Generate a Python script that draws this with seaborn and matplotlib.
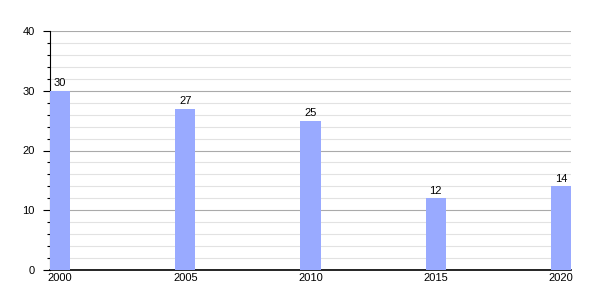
import matplotlib
matplotlib.use("Agg")
import matplotlib.pyplot as plt
import seaborn as sns
import numpy as np
import pandas as pd
from matplotlib.ticker import MultipleLocator

years = [2000, 2005, 2010, 2015, 2020]
values = [30, 27, 25, 12, 14]

sns.set_style("white")
plt.rcParams['font.family'] = ['Liberation Sans', 'DejaVu Sans']
plt.rcParams['text.color'] = 'black'
plt.rcParams['xtick.color'] = 'black'
plt.rcParams['ytick.color'] = 'black'

fig = plt.figure(figsize=(6, 3), dpi=100)
ax = fig.add_axes([50/600, 1 - 270/300, 521/600, 239/300])

centers = [y + 0.4 for y in years]
df = pd.DataFrame({"x": centers, "v": values})
sns.barplot(data=df, x="x", y="v", native_scale=True, width=0.16,
            color="#99aaff", saturation=1, ax=ax, zorder=3, errorbar=None,
            linewidth=0, edgecolor="none")

ax.set_xlim(2000, 2020.8)
ax.set_ylim(0, 40)
ax.set_xticks(centers)
ax.set_xticklabels([str(y) for y in years], fontsize=8, color='black')
ax.yaxis.set_major_locator(MultipleLocator(10))
ax.yaxis.set_minor_locator(MultipleLocator(2))
ax.tick_params(axis='y', which='major', length=5, width=0.8, color='black', labelsize=8, pad=6, left=True, labelcolor='black')
ax.tick_params(axis='y', which='minor', length=2.5, width=0.8, color='black', left=True)
ax.tick_params(axis='x', length=0, pad=2, labelcolor='black')
ax.grid(axis='y', which='major', color='#aaaaaa', linewidth=0.8, zorder=0)
ax.grid(axis='y', which='minor', color='#e2e2e2', linewidth=0.8, zorder=0)
ax.set_axisbelow(True)
for s in ['top', 'right']:
    ax.spines[s].set_visible(False)
ax.spines['left'].set_color('black')
ax.spines['left'].set_linewidth(0.8)
ax.spines['bottom'].set_color('black')
ax.spines['bottom'].set_linewidth(1.2)
ax.set_xlabel("")
ax.set_ylabel("")

for c in ax.containers:
    ax.bar_label(c, labels=[str(v) for v in values], fontsize=8, padding=2, color='black')

fig.savefig("out.png", dpi=100)
